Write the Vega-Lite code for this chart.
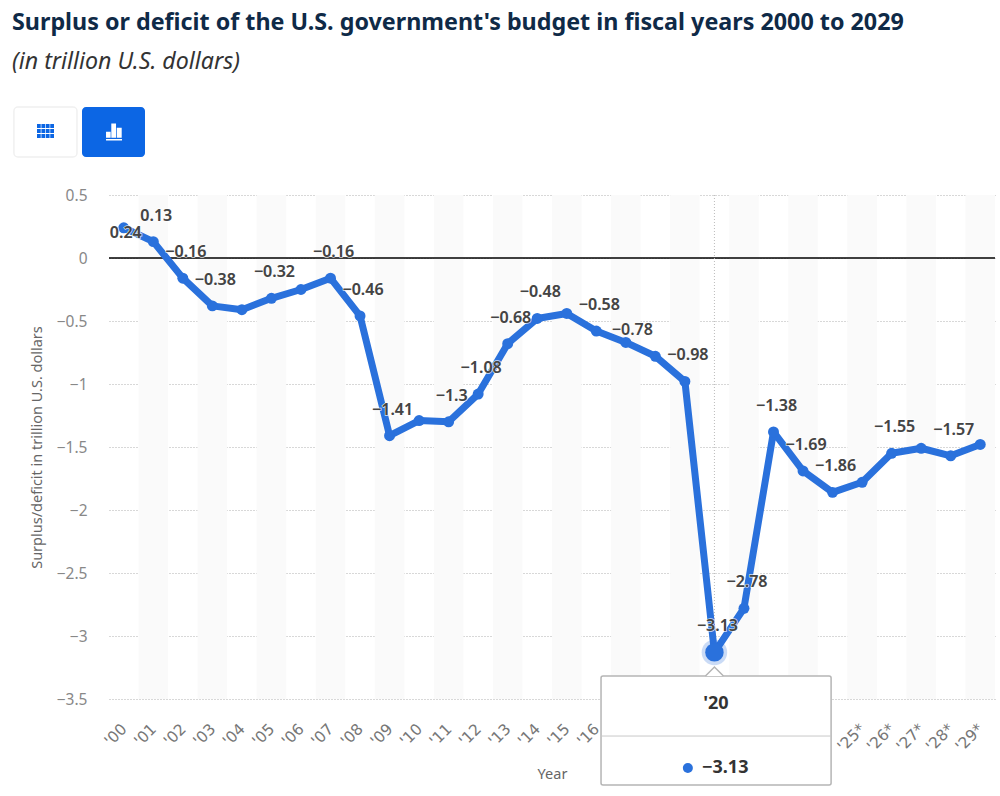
{"$schema":"https://vega.github.io/schema/vega-lite/v6.json","width":886,"height":504,"autosize":"none","padding":{"left":109,"top":195,"right":5,"bottom":97},"background":"white",
"title":{"text":"Surplus or deficit of the U.S. government's budget in fiscal years 2000 to 2029","subtitle":"(in trillion U.S. dollars)","anchor":"start","frame":"group","dx":-97,"offset":32,"font":"Noto Sans","fontSize":23.3,"fontWeight":"bold","color":"#0f2a47","subtitleFont":"Noto Sans","subtitleFontSize":23.2,"subtitleFontStyle":"italic","subtitleColor":"#333333","subtitlePadding":16},
"config":{"view":{"stroke":null},"axisX":{"labelOverlap":false,"labelBound":false,"labelFlush":false}},
"data":{"values":[{"year":2000,"value":0.24},{"year":2001,"value":0.13},{"year":2002,"value":-0.16},{"year":2003,"value":-0.38},{"year":2004,"value":-0.41},{"year":2005,"value":-0.32},{"year":2006,"value":-0.25},{"year":2007,"value":-0.16},{"year":2008,"value":-0.46},{"year":2009,"value":-1.41},{"year":2010,"value":-1.29},{"year":2011,"value":-1.3},{"year":2012,"value":-1.08},{"year":2013,"value":-0.68},{"year":2014,"value":-0.48},{"year":2015,"value":-0.44},{"year":2016,"value":-0.58},{"year":2017,"value":-0.67},{"year":2018,"value":-0.78},{"year":2019,"value":-0.98},{"year":2020,"value":-3.13},{"year":2021,"value":-2.78},{"year":2022,"value":-1.38},{"year":2023,"value":-1.69},{"year":2024,"value":-1.86},{"year":2025,"value":-1.78},{"year":2026,"value":-1.55},{"year":2027,"value":-1.51},{"year":2028,"value":-1.57},{"year":2029,"value":-1.48}]},
"layer":[
{"data":{"values":[{"start":2000.5,"end":2001.5},{"start":2002.5,"end":2003.5},{"start":2004.5,"end":2005.5},{"start":2006.5,"end":2007.5},{"start":2008.5,"end":2009.5},{"start":2010.5,"end":2011.5},{"start":2012.5,"end":2013.5},{"start":2014.5,"end":2015.5},{"start":2016.5,"end":2017.5},{"start":2018.5,"end":2019.5},{"start":2020.5,"end":2021.5},{"start":2022.5,"end":2023.5},{"start":2024.5,"end":2025.5},{"start":2026.5,"end":2027.5},{"start":2028.5,"end":2029.5}]},
"mark":{"type":"rect","color":"#fafafa"},
"encoding":{"x":{"field":"start","type":"quantitative","scale":{"domain":[1999.5,2029.5],"nice":false,"zero":false},
"axis":{"values":[2000,2001,2002,2003,2004,2005,2006,2007,2008,2009,2010,2011,2012,2013,2014,2015,2016,2017,2018,2019,2020,2021,2022,2023,2024,2025,2026,2027,2028,2029],"tickCount":30,"title":"Year","titleFont":"Noto Sans","titleFontSize":14.5,"titleFontWeight":"normal","titleColor":"#666666","titlePadding":13,"labelExpr":"datum.value == 2024 ? '' : \"'\" + substring(toString(datum.value),2,4) + (datum.value >= 2025 ? '*' : '')","labelAngle":-45,"labelAlign":"right","labelBaseline":"middle","labelFont":"DejaVu Sans","labelFontSize":15.5,"labelColor":"#777777","labelPadding":27,"labelOverlap":false,"labelBound":false,"labelFlush":false,"ticks":false,"domain":false,"grid":false}},"x2":{"field":"end"}}},
{"data":{"values":[{}]},"mark":{"type":"rule","opacity":0},
"encoding":{"y":{"datum":0,"type":"quantitative","scale":{"domain":[-3.5,0.5],"nice":false,"zero":false},
"axis":{"values":[-3.5,-3,-2.5,-2,-1.5,-1,-0.5,0,0.5],"format":".1~f","title":"Surplus/deficit in trillion U.S. dollars","titleFont":"Noto Sans","titleFontSize":14.5,"titleFontWeight":"normal","titleColor":"#666666","titlePadding":12,"labelFont":"Noto Sans","labelFontSize":15.5,"labelColor":"#888888","labelPadding":22,"ticks":false,"domain":false,"grid":true,"gridColor":"#b0b0b0","gridDash":[1,2],"gridWidth":1}}}},
{"data":{"values":[{}]},"mark":{"type":"rule","color":"#000000","strokeWidth":1.5},"encoding":{"y":{"datum":0,"type":"quantitative"}}},
{"data":{"values":[{}]},"mark":{"type":"rule","color":"#bbbbbb","strokeDash":[1,2]},"encoding":{"x":{"datum":2020,"type":"quantitative"},"y":{"datum":0.5,"type":"quantitative"},"y2":{"datum":-3.13}}},
{"mark":{"type":"line","color":"#2a71dc","strokeWidth":7,"strokeJoin":"round"},"encoding":{"x":{"field":"year","type":"quantitative"},"y":{"field":"value","type":"quantitative"}}},
{"mark":{"type":"point","filled":true,"opacity":1,"color":"#2a71dc","size":120},"encoding":{"x":{"field":"year","type":"quantitative"},"y":{"field":"value","type":"quantitative"}}},
{"transform":[{"filter":"datum.year == 2020"}],"mark":{"type":"point","filled":true,"color":"#2a71dc","opacity":0.25,"size":650},"encoding":{"x":{"field":"year","type":"quantitative"},"y":{"field":"value","type":"quantitative"}}},
{"transform":[{"filter":"datum.year == 2020"}],"mark":{"type":"point","filled":true,"opacity":1,"color":"#2a71dc","size":340},"encoding":{"x":{"field":"year","type":"quantitative"},"y":{"field":"value","type":"quantitative"}}},
{"transform":[{"filter":{"field":"year","oneOf":[2001,2002,2003,2005,2007,2008,2009,2011,2012,2013,2014,2016,2019,2020,2021,2022,2023,2024,2026,2028]}}],"mark":{"type":"text","dx":3,"dy":-26,"font":"Noto Sans","fontSize":16,"fontWeight":600,"stroke":"#ffffff","strokeWidth":1.5,"strokeOpacity":0.8},"encoding":{"x":{"field":"year","type":"quantitative"},"y":{"field":"value","type":"quantitative"},"text":{"field":"value","type":"quantitative","format":".2~f"}}},
{"transform":[{"filter":{"field":"year","oneOf":[2001,2002,2003,2005,2007,2008,2009,2011,2012,2013,2014,2016,2019,2020,2021,2022,2023,2024,2026,2028]}}],"mark":{"type":"text","dx":3,"dy":-26,"font":"Noto Sans","fontSize":16,"fontWeight":600,"color":"#444444"},"encoding":{"x":{"field":"year","type":"quantitative"},"y":{"field":"value","type":"quantitative"},"text":{"field":"value","type":"quantitative","format":".2~f"}}},
{"transform":[{"filter":"datum.year == 2000"}],"mark":{"type":"text","dx":2,"dy":5,"font":"Noto Sans","fontSize":16,"fontWeight":600,"stroke":"#ffffff","strokeWidth":1.5,"strokeOpacity":0.8},"encoding":{"x":{"field":"year","type":"quantitative"},"y":{"field":"value","type":"quantitative"},"text":{"field":"value","type":"quantitative","format":".2~f"}}},
{"transform":[{"filter":"datum.year == 2000"}],"mark":{"type":"text","dx":2,"dy":5,"font":"Noto Sans","fontSize":16,"fontWeight":600,"color":"#444444"},"encoding":{"x":{"field":"year","type":"quantitative"},"y":{"field":"value","type":"quantitative"},"text":{"field":"value","type":"quantitative","format":".2~f"}}},
{"transform":[{"filter":"datum.year == 2018"}],"mark":{"type":"text","dx":-23,"dy":-26,"font":"Noto Sans","fontSize":16,"fontWeight":600,"color":"#444444"},"encoding":{"x":{"field":"year","type":"quantitative"},"y":{"field":"value","type":"quantitative"},"text":{"field":"value","type":"quantitative","format":".2~f"}}},
{"data":{"values":[{}]},"mark":{"type":"rect","fill":"#ffffff","stroke":"#b5b5b5","strokeWidth":1.5,"cornerRadius":2},"encoding":{"x":{"datum":2016.16,"type":"quantitative"},"x2":{"datum":2023.95},"y":{"datum":-3.317,"type":"quantitative"},"y2":{"datum":-4.183}}},
{"data":{"values":[{}]},"mark":{"type":"point","shape":"M-1,0L0,-1L1,0","fill":"#ffffff","stroke":"#b5b5b5","strokeWidth":1.5,"opacity":1,"size":324},"encoding":{"x":{"datum":2020,"type":"quantitative"},"y":{"datum":-3.317,"type":"quantitative"}}},
{"data":{"values":[{}]},"mark":{"type":"rule","color":"#c8c8c8","strokeWidth":1},"encoding":{"x":{"datum":2016.16,"type":"quantitative"},"x2":{"datum":2023.95},"y":{"datum":-3.794,"type":"quantitative"}}},
{"data":{"values":[{"label":"'20"}]},"mark":{"type":"text","font":"Noto Sans","fontSize":18,"fontWeight":"bold","color":"#333333"},"encoding":{"x":{"datum":2020.05,"type":"quantitative"},"y":{"datum":-3.54,"type":"quantitative"},"text":{"field":"label"}}},
{"data":{"values":[{}]},"mark":{"type":"point","filled":true,"color":"#2a71dc","opacity":1,"size":100},"encoding":{"x":{"datum":2019.1,"type":"quantitative"},"y":{"datum":-4.048,"type":"quantitative"}}},
{"transform":[{"filter":"datum.year == 2020"}],"mark":{"type":"text","align":"left","font":"Noto Sans","fontSize":18,"fontWeight":"bold","color":"#333333"},"encoding":{"x":{"datum":2019.58,"type":"quantitative"},"y":{"datum":-4.048,"type":"quantitative"},"text":{"field":"value","type":"quantitative","format":".2~f"}}},
{"data":{"values":[{}]},"mark":{"type":"rect","fill":"#ffffff","stroke":"#f0f0f0","strokeWidth":1.5,"cornerRadius":4},"encoding":{"x":{"datum":1996.28,"type":"quantitative"},"x2":{"datum":1998.416},"y":{"datum":1.198,"type":"quantitative"},"y2":{"datum":0.802}}},
{"data":{"values":[{}]},"mark":{"type":"rect","fill":"#0c66e4","cornerRadius":4},"encoding":{"x":{"datum":1998.586,"type":"quantitative"},"x2":{"datum":2000.719},"y":{"datum":1.198,"type":"quantitative"},"y2":{"datum":0.802}}},
{"data":{"values":[{}]},"mark":{"type":"point","shape":"M-1,-.82h.44v.48h-.44zM-.48,-.82h.44v.48h-.44zM.04,-.82h.44v.48h-.44zM.56,-.82h.44v.48h-.44zM-1,-.24h.44v.48h-.44zM-.48,-.24h.44v.48h-.44zM.04,-.24h.44v.48h-.44zM.56,-.24h.44v.48h-.44zM-1,.34h.44v.48h-.44zM-.48,.34h.44v.48h-.44zM.04,.34h.44v.48h-.44zM.56,.34h.44v.48h-.44z","filled":true,"color":"#0c66e4","opacity":1,"size":289},"encoding":{"x":{"datum":1997.35,"type":"quantitative"},"y":{"datum":1.008,"type":"quantitative"}}},
{"data":{"values":[{}]},"mark":{"type":"point","shape":"M-1,.02H-.42V.77H-1zM-.34,-1H.25V.77H-.34zM.34,-.48H.96V.77H.34zM-1,.94H1V1.12H-1z","filled":true,"color":"#ffffff","opacity":1,"size":256},"encoding":{"x":{"datum":1999.67,"type":"quantitative"},"y":{"datum":1.004,"type":"quantitative"}}}
]}
